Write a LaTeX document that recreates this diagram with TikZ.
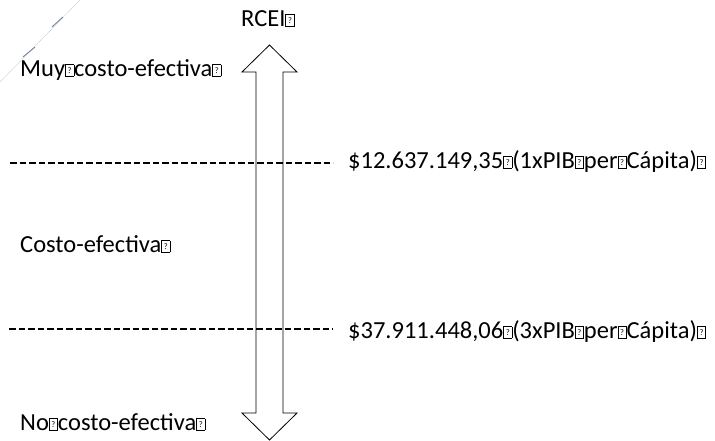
\documentclass[tikz,border=0pt]{standalone}
\usepackage{fontspec}
\setmainfont{Carlito}
\usepackage{xcolor}
\definecolor{scanline}{RGB}{120,138,170}

% box that stands for a glyph the font could not show
\newcommand{\qbox}{\raisebox{0.03em}{\setlength{\fboxsep}{0pt}\setlength{\fboxrule}{0.6pt}%
  \fbox{\makebox[0.32em][c]{\rule[-0.02em]{0pt}{0.44em}\raisebox{0.07em}{\fontsize{8.5}{8.5}\selectfont ?}}}}}

\begin{document}
\begin{tikzpicture}[x=1pt,y=-1pt,
  lbl/.style={anchor=base west, inner sep=0pt, font=\fontsize{24.5}{30}\selectfont},
  cutline/.style={black, line width=2pt, dash pattern=on 6.5pt off 3pt}]

% ---- layout parameters ----
\def\xmid{269.5}         % axis of the arrow
\def\hw{27.5}            % half width of the heads
\def\sw{13.5}            % half width of the shaft
\def\ytop{45}            % upper tip
\def\ybot{440}           % lower tip
\def\hh{27}              % head height
\def\yone{163}           % row y of 1 x PIB
\def\ythree{329}         % row y of 3 x PIB

\useasboundingbox (0,0) rectangle (715,440);

% faint stroke in the corner
\draw[scanline!40, line width=0.4pt] (0,82) -- (80,0);
\draw[scanline, line width=1pt] (23,57) -- (35,47);
\draw[scanline, line width=1pt] (52,27) -- (63,17);

% ---- double arrow ----
\draw[black, fill=white, line width=0.8pt]
  (\xmid,\ytop) -- (\xmid+\hw,\ytop+\hh) -- (\xmid+\sw,\ytop+\hh)
  -- (\xmid+\sw,\ybot-\hh) -- (\xmid+\hw,\ybot-\hh) -- (\xmid,\ybot)
  -- (\xmid-\hw,\ybot-\hh) -- (\xmid-\sw,\ybot-\hh)
  -- (\xmid-\sw,\ytop+\hh) -- (\xmid-\hw,\ytop+\hh) -- cycle;

% ---- thresholds ----
\coordinate (oneL) at (10,\yone);
\coordinate (oneR) at (333,\yone);
\coordinate (threeL) at (9,\ythree);
\coordinate (threeR) at (333,\ythree);
\draw[cutline] (oneL) -- (oneR);
\draw[cutline] (threeL) -- (threeR);

% ---- labels ----
\node[lbl] (rcei) at (241,26) {RCEI\qbox};
\node[lbl] (muy) at (20,76) {Muy\qbox costo-efectiva\qbox};
\node[lbl] (ce) at (20,252) {Costo-efectiva\qbox};
\node[lbl] (no) at (20,430) {No\qbox costo-efectiva\qbox};
\node[lbl] (pib1) at (348,168) {\$12.637.149,35\qbox(1xPIB\qbox per\qbox Cápita)\qbox};
\node[lbl] (pib3) at (348,338) {\$37.911.448,06\qbox(3xPIB\qbox per\qbox Cápita)\qbox};

\end{tikzpicture}
\end{document}
